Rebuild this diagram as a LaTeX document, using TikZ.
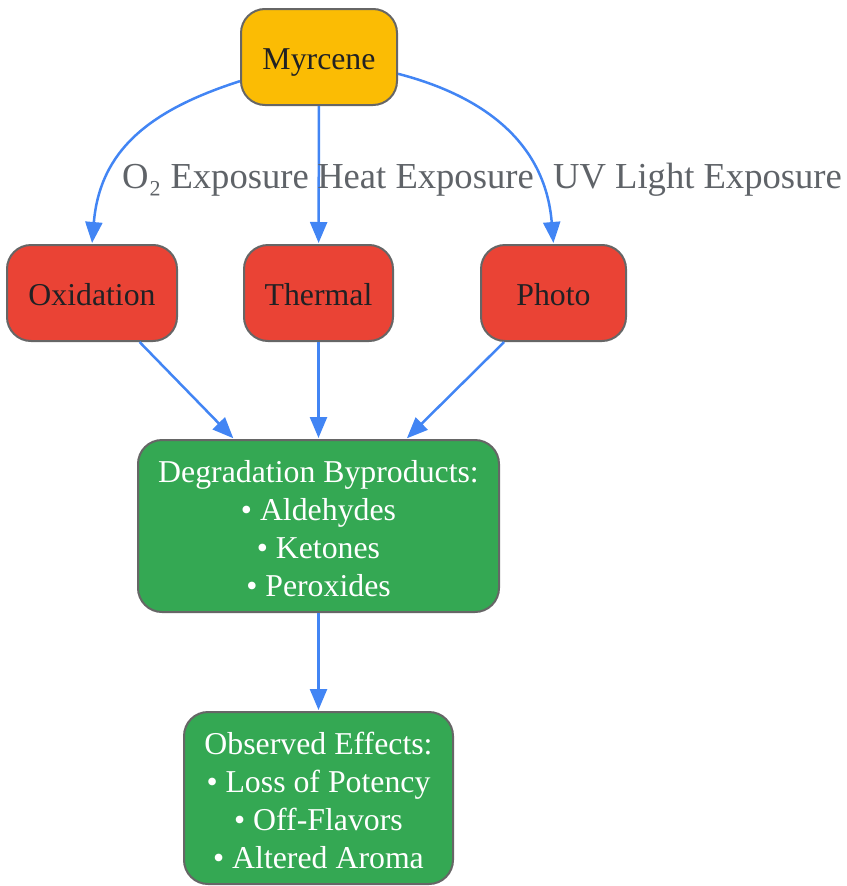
\documentclass[tikz,border=0pt]{standalone}
\usepackage{fontspec}
\setmainfont{Liberation Serif}
\usetikzlibrary{arrows.meta,calc}
\definecolor{myyellow}{HTML}{FBBC04}
\definecolor{myred}{HTML}{EA4335}
\definecolor{mygreen}{HTML}{34A853}
\definecolor{myblue}{HTML}{4285F4}
\definecolor{bordergray}{HTML}{666666}
\definecolor{labelgray}{HTML}{5F6368}
\definecolor{darktext}{HTML}{202124}
\newcommand\firststrut{\rule{0pt}{34pt}}
\newcommand\laststrut{\rule[-7pt]{0pt}{7pt}}
\begin{document}
\begin{tikzpicture}[x=1pt,y=-1pt,
  box/.style={draw=bordergray, line width=2pt, rounded corners=24pt, align=center,
    inner sep=0pt, minimum height=96pt,
    font=\fontsize{31.8pt}{38.2pt}\selectfont},
  ybox/.style={box, fill=myyellow, text=darktext, text height=32pt, text depth=8pt},
  rbox/.style={box, fill=myred, text=darktext, text height=32pt, text depth=8pt},
  gbox/.style={box, fill=mygreen, text=white, minimum height=172pt},
  elabel/.style={anchor=base, text=labelgray, inner sep=0pt,
    font=\fontsize{36.6pt}{44pt}\selectfont},
  conn/.style={draw=myblue, line width=2.5pt,
    -{Triangle[length=21pt,width=17pt]}, shorten >=1pt}
]
\useasboundingbox (0,0) rectangle (846,886);

\node[ybox, minimum width=156pt] (my) at (319,57) {Myrcene};
\node[rbox, minimum width=170pt] (oxi) at (92,293) {Oxidation};
\node[rbox, minimum width=149pt] (the) at (318.5,293) {Thermal};
\node[rbox, minimum width=145pt] (pho) at (553.5,293) {Photo};
\node[gbox, minimum width=361pt] (deg) at (318.5,526) {\firststrut Degradation Byproducts:\\• Aldehydes\\• Ketones\\• Peroxides\laststrut};
\node[gbox, minimum width=269pt] (obs) at (318.5,798) {\firststrut Observed Effects:\\• Loss of Potency\\• Off-Flavors\\• Altered Aroma\laststrut};

\draw[conn] (my.197) .. controls (150,110) and (100,150) .. (oxi.north);
\draw[conn] (my) -- (the);
\draw[conn] (my.348) .. controls (480,95) and (545,140) .. (pho.north);
\draw[conn] (oxi) -- (deg);
\draw[conn] (the) -- (deg);
\draw[conn] (pho) -- (deg);
\draw[conn] (deg) -- (obs);

\node[elabel] (l1) at (215.5,188) {O₂ Exposure};
\node[elabel] (l2) at (425.5,188) {Heat Exposure};
\node[elabel] (l3) at (697.5,188) {UV Light Exposure};
\end{tikzpicture}
\end{document}
